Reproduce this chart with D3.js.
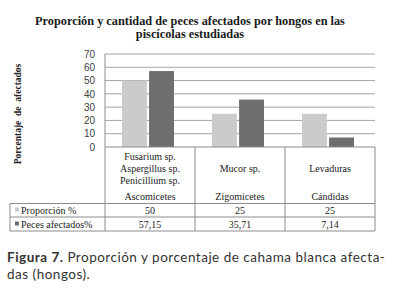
<!DOCTYPE html>
<html><head><meta charset="utf-8">
<script src="https://cdn.jsdelivr.net/npm/d3@7"></script>
<style>
html,body{margin:0;padding:0;background:#fff;}
svg{display:block;}
</style></head>
<body>
<svg id="c" width="400" height="297"></svg>
<script>
const titleLines = ["Proporción y cantidad de peces afectados por hongos en las", "piscícolas estudiadas"];
const categories = ["Ascomicetes", "Zigomicetes", "Cándidas"];
const headerLines = [["Fusarium sp.", "Aspergillus sp.", "Penicillium sp."], ["Mucor sp."], ["Levaduras"]];
const seriesNames = ["Proporción %", "Peces afectados%"];
const proporcion = [50, 25, 25];
const pecesAfectados = [57.15, 35.71, 7.14];
const proporcionLabels = ["50", "25", "25"];
const pecesLabels = ["57,15", "35,71", "7,14"];
const yTicks = [0, 10, 20, 30, 40, 50, 60, 70];
const yTitle = "Porcentaje  de  afectados";
const captionBold = "Figura 7.";
const captionRest = " Proporción y porcentaje de cahama blanca afecta-";
const captionLine2 = "das (hongos).";

const colors = ["#cbcbcb", "#6e6e6e"];
const serif = "'Liberation Serif', 'Times New Roman', serif";
const sans = "'Liberation Sans', Arial, sans-serif";
const svg = d3.select("#c");

const L = 105, R = 375, T = 54, B = 147;
const headBottom = 203.5, row1Bottom = 217, row2Bottom = 231, tableLeft = 10;

const x0 = d3.scaleBand().domain(categories).range([L, R]).padding(0);
const colW = x0.bandwidth();
const x1 = d3.scaleBand().domain(seriesNames).range([colW / 2 - 28, colW / 2 + 24]).paddingInner(0.08);
const y = d3.scaleLinear().domain([0, 70]).range([B, T]);

// title
svg.append("g").selectAll("text").data(titleLines).join("text")
  .attr("x", 190).attr("y", (d, i) => 25 + i * 13)
  .attr("text-anchor", "middle")
  .attr("font-family", serif).attr("font-weight", "bold").attr("font-size", 12.3)
  .attr("fill", "#1a1a1a").text(d => d);

// gridlines
svg.append("g").selectAll("line").data(yTicks.filter(d => d > 0)).join("line")
  .attr("x1", L).attr("x2", R).attr("y1", d => y(d)).attr("y2", d => y(d))
  .attr("stroke", "#a6a6a6").attr("stroke-width", 1);

// y axis
const yAxis = d3.axisLeft(y).tickValues(yTicks).tickSize(0).tickPadding(10);
const ga = svg.append("g").attr("transform", `translate(${L},0)`).call(yAxis);
ga.select(".domain").remove();
ga.selectAll("text").attr("font-family", sans).attr("font-size", 10).attr("fill", "#404040");

// bars
const data = categories.map((c, i) => ({ c, vals: [proporcion[i], pecesAfectados[i]] }));
const groups = svg.append("g").selectAll("g").data(data).join("g")
  .attr("transform", d => `translate(${x0(d.c)},0)`);
groups.selectAll("rect").data(d => d.vals.map((v, j) => ({ v, s: seriesNames[j], j }))).join("rect")
  .attr("x", d => x1(d.s)).attr("width", x1.bandwidth())
  .attr("y", d => y(d.v)).attr("height", d => B - y(d.v))
  .attr("fill", d => colors[d.j]);

// table lines
const tl = svg.append("g").attr("stroke", "#8c8c8c").attr("stroke-width", 1).attr("fill", "none");
tl.append("line").attr("x1", L).attr("x2", R).attr("y1", B).attr("y2", B);
tl.append("line").attr("x1", L).attr("x2", L).attr("y1", T).attr("y2", row2Bottom);
[headBottom, row1Bottom, row2Bottom].forEach(yy =>
  tl.append("line").attr("x1", tableLeft).attr("x2", R).attr("y1", yy).attr("y2", yy));
tl.append("line").attr("x1", tableLeft).attr("x2", tableLeft).attr("y1", headBottom).attr("y2", row2Bottom);
categories.forEach(c => {
  tl.append("line").attr("x1", x0(c) + colW).attr("x2", x0(c) + colW).attr("y1", B).attr("y2", row2Bottom);
});

// header text
const hdr = svg.append("g").attr("font-family", serif).attr("font-size", 10).attr("fill", "#222").attr("text-anchor", "middle");
categories.forEach((c, i) => {
  const cx = x0(c) + colW / 2;
  const lines = headerLines[i];
  if (lines.length === 3) {
    lines.forEach((t, k) => hdr.append("text").attr("x", cx).attr("y", 160 + k * 12).text(t));
  } else {
    hdr.append("text").attr("x", cx).attr("y", 172).text(lines[0]);
  }
  hdr.append("text").attr("x", cx).attr("y", 200).text(c);
  hdr.append("text").attr("x", cx).attr("y", 214).text(proporcionLabels[i]);
  hdr.append("text").attr("x", cx).attr("y", 228).text(pecesLabels[i]);
});

// legend cells
const leg = svg.append("g");
seriesNames.forEach((s, i) => {
  const yy = i === 0 ? 210 : 224;
  leg.append("rect").attr("x", 15).attr("y", yy - 2.5).attr("width", 4).attr("height", 4).attr("fill", colors[i]);
  leg.append("text").attr("x", 21).attr("y", yy + 3.5)
    .attr("font-family", serif).attr("font-size", 10).attr("fill", "#222").text(s);
});

// y title
svg.append("text").attr("transform", "translate(21,114) rotate(-90)")
  .attr("text-anchor", "middle").attr("font-family", serif).attr("font-weight", "bold")
  .attr("font-size", 9.5).attr("fill", "#222").style("white-space", "pre").text(yTitle);

// caption
const capFont = "Lato, 'Open Sans', sans-serif";
const cap = svg.append("text").attr("x", 7).attr("y", 262)
  .attr("font-family", capFont).attr("font-size", 13.5).attr("letter-spacing", 0.5).attr("fill", "#333");
cap.append("tspan").attr("font-weight", "bold").text(captionBold);
cap.append("tspan").text(captionRest);
svg.append("text").attr("x", 7).attr("y", 279)
  .attr("font-family", capFont).attr("font-size", 13.5).attr("letter-spacing", 0.5).attr("fill", "#333").text(captionLine2);
</script>
</body></html>
